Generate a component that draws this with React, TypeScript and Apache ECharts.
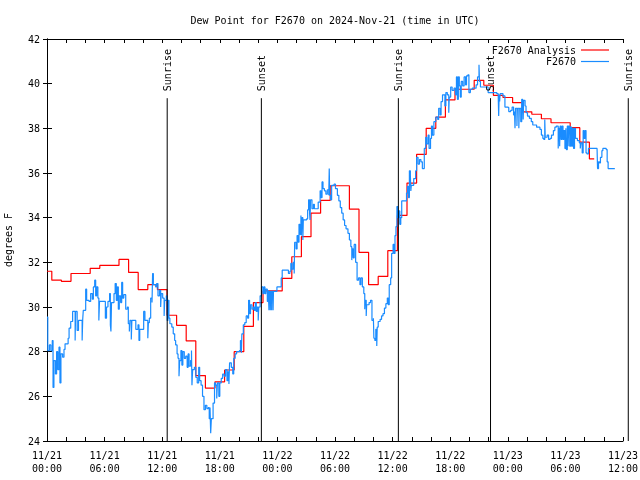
import React, { useEffect, useRef } from "react";
import * as echarts from "echarts";

const FONT = '"DejaVu Sans Mono", "Liberation Mono", monospace';

const titleText = "Dew Point for F2670 on 2024-Nov-21 (time in UTC)";
const dayLabels = ["11/21", "11/22", "11/23"];
const yMin = 24;
const yMax = 42;

// Hourly analysis values, hour 0 .. 57 from 11/21 00:00 UTC
const analysisValues = [
  31.6, 31.2, 31.15, 31.5, 31.5, 31.73, 31.86, 31.86, 32.13, 31.55,
  30.78, 31.0, 30.78, 29.63, 29.18, 28.48, 26.93, 26.37, 26.65, 27.18,
  28.0, 29.13, 30.2, 30.72, 30.72, 31.28, 32.25, 33.15, 34.2, 34.77,
  35.43, 35.43, 34.38, 32.45, 31.0, 31.37, 32.52, 34.1, 35.55, 36.83,
  38.0, 38.5, 39.27, 39.75, 39.75, 40.15, 39.93, 39.48, 39.38, 39.15,
  38.74, 38.63, 38.43, 38.25, 38.25, 38.03, 37.38, 36.63,
];

// Observations [hour since 11/21 00:00, dew point]
const obsDay1Morning = [
  [0.0, 29.55], [0.08, 28.05], [0.25, 28.3], [0.4, 28.05], [0.55, 28.5], [0.63, 26.4], [0.72, 27.6],
  [0.88, 27.0], [1.0, 28.0], [1.12, 27.2], [1.25, 28.2], [1.35, 26.6], [1.45, 27.9], [1.63, 27.75],
  [1.77, 28.1], [1.88, 28.35], [2.2, 28.6], [2.3, 29.05], [2.47, 29.35], [2.67, 29.8], [2.93, 28.5],
  [2.98, 29.8], [3.14, 28.95], [3.28, 29.4], [3.66, 28.5], [3.72, 29.45], [3.78, 29.85], [4.03, 30.8],
  [4.13, 30.3], [4.38, 30.25], [4.55, 30.6], [4.72, 30.35], [4.83, 30.9], [4.97, 31.2], [5.07, 30.5],
  [5.17, 30.9], [5.3, 30.4], [5.4, 29.4], [5.47, 30.25], [5.94, 30.25], [6.08, 29.5], [6.2, 30.0],
  [6.35, 30.25], [6.52, 30.6], [6.6, 29.2], [6.66, 28.9], [6.72, 30.2], [6.98, 30.6], [7.1, 31.05],
  [7.22, 30.3], [7.33, 30.9], [7.43, 29.9], [7.53, 30.5], [7.67, 30.2], [7.78, 31.1], [7.88, 30.4],
  [8.0, 30.55], [8.2, 29.9], [8.37, 30.0], [8.47, 29.25], [8.58, 28.9], [8.64, 29.4], [8.78, 28.55],
  [8.84, 29.4], [9.25, 29.0], [9.48, 29.2], [9.58, 28.5], [9.66, 29.0], [9.97, 29.0], [10.07, 29.8],
  [10.2, 29.4], [10.5, 28.6], [10.56, 29.3], [10.66, 29.5], [10.8, 30.4], [10.94, 30.2], [11.0, 31.5],
  [11.08, 31.0], [11.32, 30.9], [11.42, 31.05], [11.56, 30.5], [11.72, 30.75], [11.84, 30.0],
  [11.9, 30.6], [12.05, 30.4], [12.2, 29.6], [12.26, 30.3], [12.43, 30.5], [12.52, 29.4],
  [12.6, 30.3], [12.7, 29.5],
];

const obsDay1Evening = [
  [12.8, 29.25], [13.0, 29.1], [13.15, 28.8], [13.3, 28.5], [13.4, 28.3], [13.55, 27.9], [13.65, 27.7],
  [13.75, 26.9], [13.82, 27.6], [13.95, 28.05], [14.05, 27.4], [14.15, 28.0], [14.3, 27.7], [14.45, 27.8],
  [14.6, 27.3], [14.7, 27.9], [14.8, 27.35], [14.95, 27.6], [15.05, 28.05], [15.1, 26.5], [15.17, 27.2],
  [15.35, 27.3], [15.5, 26.85], [15.65, 26.6], [15.8, 27.3], [15.9, 26.7], [16.05, 26.5], [16.2, 26.0],
  [16.35, 25.4], [16.5, 25.6], [16.65, 25.45], [16.8, 25.5], [16.9, 25.0], [16.98, 25.5], [17.05, 24.35],
  [17.12, 25.0], [17.3, 25.7], [17.45, 26.6], [17.55, 26.5], [17.68, 25.9], [17.75, 26.6], [17.9, 26.0],
  [18.0, 26.6], [18.15, 26.8], [18.3, 27.0], [18.45, 26.9], [18.6, 27.2], [18.75, 26.7], [18.85, 27.1],
  [18.95, 26.55], [19.02, 27.5], [19.2, 27.3], [19.35, 27.0], [19.45, 27.7], [19.6, 27.9], [19.75, 28.0],
  [20.05, 28.05], [20.15, 28.5], [20.25, 27.95], [20.3, 28.8], [20.45, 29.2], [20.6, 29.3], [20.75, 29.6],
  [20.9, 29.5], [21.0, 30.3], [21.1, 29.7], [21.2, 30.1], [21.35, 29.9], [21.5, 30.0], [21.6, 29.85],
  [21.7, 30.2], [21.8, 29.8], [21.9, 30.0], [22.0, 29.4], [22.06, 30.0], [22.2, 30.5], [22.35, 30.9],
  [22.5, 30.6], [22.6, 30.9], [22.7, 30.6], [22.8, 30.8], [22.95, 30.25], [23.05, 30.75],
];

const obsDay2Morning = [
  [23.12, 29.85], [23.16, 30.7], [23.26, 29.85], [23.3, 30.7], [23.4, 29.85], [23.44, 30.7], [23.55, 29.85],
  [23.59, 30.7], [23.95, 30.9], [24.4, 31.3], [24.5, 31.65], [25.15, 31.5], [25.3, 31.6], [25.4, 31.95],
  [25.5, 31.7], [25.65, 32.0], [25.75, 31.5], [25.8, 32.9], [25.95, 32.6], [26.05, 33.2], [26.15, 32.9],
  [26.25, 33.7], [26.35, 33.25], [26.45, 34.1], [26.5, 33.2], [26.56, 34.0], [26.65, 33.0], [26.7, 33.9],
  [27.05, 33.95], [27.15, 34.35], [27.25, 34.8], [27.35, 34.2], [27.4, 33.9], [27.45, 34.8], [27.6, 34.4],
  [27.75, 34.6], [27.85, 34.4], [28.25, 34.7], [28.45, 35.2], [28.55, 34.9], [28.65, 35.6], [28.75, 35.3],
  [28.9, 35.2], [29.05, 35.05], [29.2, 35.25], [29.35, 35.0], [29.4, 36.2], [29.45, 35.0], [29.55, 34.8],
  [29.65, 35.45], [29.9, 35.5], [30.05, 35.3], [30.25, 35.0], [30.4, 34.75], [30.55, 34.45], [30.7, 34.2],
  [30.85, 33.9], [31.0, 33.65], [31.15, 33.5], [31.35, 33.3], [31.5, 33.0], [31.65, 32.7], [31.75, 32.1],
  [31.8, 32.6], [31.9, 32.2], [32.0, 32.8], [32.15, 32.0], [32.3, 31.2], [32.45, 31.3], [32.6, 31.0],
  [32.7, 31.3], [32.85, 30.9], [33.0, 30.6], [33.1, 29.9], [33.15, 30.3], [33.25, 29.6], [33.3, 30.1],
  [33.55, 30.2], [33.7, 30.3], [33.85, 29.4], [34.0, 29.5], [34.05, 28.6], [34.15, 28.5], [34.25, 29.0],
  [34.35, 28.25], [34.4, 29.1], [34.5, 29.35], [34.7, 29.45], [34.85, 29.6], [35.0, 29.7], [35.15, 29.95],
  [35.3, 30.15], [35.45, 30.4], [35.55, 30.1], [35.65, 31.0], [35.8, 31.3], [35.9, 32.4], [36.05, 32.8],
  [36.15, 32.4], [36.25, 33.2], [36.35, 33.6], [36.45, 34.5], [36.55, 34.0], [36.65, 34.3],
];

const obsDay2Evening = [
  [36.75, 33.7], [36.85, 34.0], [36.95, 34.75], [37.45, 35.1], [37.55, 35.4], [37.65, 34.9], [37.75, 36.1],
  [37.85, 35.9], [37.9, 35.2], [37.95, 35.45], [38.2, 35.75], [38.4, 36.1], [38.5, 36.7], [38.65, 36.4],
  [38.8, 36.6], [38.95, 36.5], [39.1, 36.2], [39.3, 37.1], [39.45, 37.6], [39.55, 37.3], [39.7, 37.7],
  [39.8, 37.1], [39.95, 37.55], [40.05, 38.1], [40.15, 37.7], [40.3, 38.3], [40.5, 38.5], [40.7, 38.4],
  [40.8, 38.9], [40.95, 38.6], [41.05, 39.2], [41.2, 39.5], [41.45, 39.0], [41.55, 39.6], [41.7, 39.5],
  [41.85, 38.7], [41.9, 39.4], [42.05, 39.85], [42.2, 39.7], [42.4, 39.8], [42.55, 39.5], [42.65, 40.3],
  [42.75, 39.3], [42.85, 40.3], [42.95, 39.9], [43.05, 39.4], [43.15, 40.1], [43.3, 39.9], [43.45, 40.3],
  [43.6, 39.95], [43.7, 40.35], [43.85, 40.4], [43.95, 39.6], [44.1, 39.75], [44.3, 39.8], [44.7, 39.95],
  [44.85, 40.3], [45.0, 40.85], [45.05, 40.1], [45.15, 39.85], [45.95, 39.6], [46.85, 39.55], [47.0, 39.5],
  [47.05, 38.55], [47.1, 39.5], [47.15, 39.2], [47.2, 39.55], [47.5, 39.45], [47.7, 38.95],
];

const obsDay3 = [
  [48.0, 38.93], [48.1, 38.75], [48.3, 38.8], [48.45, 38.95], [48.6, 38.6], [48.7, 38.75], [48.75, 38.0],
  [48.8, 38.9], [48.95, 38.1], [49.0, 38.9], [49.15, 38.0], [49.2, 38.9], [49.35, 38.3], [49.45, 39.3],
  [49.55, 39.2], [49.6, 38.4], [49.65, 39.25], [49.8, 39.0], [49.9, 38.7], [50.05, 38.55], [50.25, 38.45],
  [50.45, 38.3], [50.6, 38.15], [51.0, 38.05], [51.35, 37.95], [51.5, 37.7], [51.65, 37.55], [51.75, 37.5],
  [51.85, 38.4], [51.9, 37.6], [52.1, 37.7], [52.25, 37.5], [52.4, 37.55], [52.55, 37.7], [52.75, 37.9],
  [52.9, 38.05], [53.05, 38.1], [53.25, 37.1], [53.3, 38.0], [53.4, 37.2], [53.45, 38.1], [53.55, 37.5],
  [53.65, 38.1], [53.75, 37.5], [53.85, 37.9], [53.95, 37.1], [54.05, 38.0], [54.1, 37.05], [54.2, 38.1],
  [54.28, 37.2], [54.35, 38.1], [54.45, 37.2], [54.55, 38.05], [54.65, 37.2], [54.75, 38.0], [54.85, 37.1],
  [54.95, 38.0], [55.05, 37.55], [55.25, 37.45], [55.45, 37.35], [55.55, 37.1], [55.62, 37.35], [55.75, 36.9],
  [55.85, 37.9], [55.95, 37.55], [56.05, 37.9], [56.15, 36.9], [56.25, 36.85], [56.4, 37.1], [57.3, 37.05],
  [57.35, 36.2], [57.45, 36.5], [57.55, 36.45], [57.65, 36.7], [57.8, 37.0], [57.9, 37.1], [58.25, 37.05],
  [58.35, 36.5], [58.45, 36.2], [59.15, 36.2],
];

// Sun events: hour since 11/21 00:00 UTC
const sunHours = [12.52, 22.33, 36.6, 46.2, 60.55];
const sunLabels = ["Sunrise", "Sunset", "Sunrise", "Sunset", "Sunrise"];
const sunLineTop = 39.35;

export default function App() {
  const ref = useRef<HTMLDivElement>(null);
  useEffect(() => {
    if (!ref.current) return;
    const chart = echarts.init(ref.current, undefined, { renderer: "svg" });
    const textStyle = { fontFamily: FONT, fontSize: 10, color: "#000" };
    const pad = (n: number) => (n < 10 ? "0" + n : "" + n);
    const fmt = (v: number) => {
      if (Math.round(v) % 6 !== 0) return "";
      const h = Math.round(v);
      return dayLabels[Math.floor(h / 24)] + "\n" + pad(h % 24) + ":00";
    };
    const axisLine = { show: true, lineStyle: { color: "#000", width: 1 } };
    const analysisData = analysisValues.map((v, i) => [i, v]);
    const obsData = [
      ...obsDay1Morning,
      ...obsDay1Evening,
      ...obsDay2Morning,
      ...obsDay2Evening,
      ...obsDay3,
    ];
    const sunData = sunHours.map((h) => [h, sunLineTop]);
    chart.setOption({
      animation: false,
      graphic: [
        {
          type: "text",
          x: 335,
          y: 20,
          style: {
            text: titleText,
            align: "center",
            verticalAlign: "middle",
            fontFamily: FONT,
            fontSize: 10,
            fill: "#000",
          },
        },
      ],
      grid: {
        left: 47,
        right: 17,
        top: 39,
        bottom: 39,
        containLabel: false,
        outerBoundsMode: "none",
      },
      legend: [
        {
          data: ["F2670 Analysis"],
          right: 31,
          top: 45,
          padding: 0,
          align: "right",
          icon: "rect",
          itemWidth: 28,
          itemHeight: 1.2,
          selectedMode: false,
          textStyle: { ...textStyle },
        },
        {
          data: ["F2670"],
          right: 31,
          top: 56.5,
          padding: 0,
          align: "right",
          icon: "rect",
          itemWidth: 28,
          itemHeight: 1.2,
          selectedMode: false,
          textStyle: { ...textStyle },
        },
      ],
      xAxis: [
        {
          type: "value",
          min: 0,
          max: 60,
          interval: 2,
          position: "bottom",
          axisLine,
          axisTick: { inside: true, length: 4, lineStyle: { color: "#000" } },
          splitLine: { show: false },
          axisLabel: {
            ...textStyle,
            formatter: fmt,
            lineHeight: 13,
            margin: 8,
            showMinLabel: true,
            showMaxLabel: true,
            hideOverlap: false,
          },
        },
        {
          type: "value",
          min: 0,
          max: 60,
          interval: 2,
          position: "top",
          axisLine,
          axisTick: { inside: true, length: 4, lineStyle: { color: "#000" } },
          splitLine: { show: false },
          axisLabel: { show: false },
        },
      ],
      yAxis: [
        {
          type: "value",
          min: yMin,
          max: yMax,
          interval: 2,
          position: "left",
          name: "degrees F",
          nameLocation: "middle",
          nameGap: 34,
          nameTextStyle: { ...textStyle },
          axisLine,
          axisTick: { inside: true, length: 5, lineStyle: { color: "#000" } },
          splitLine: { show: false },
          axisLabel: { ...textStyle, margin: 7 },
        },
        {
          type: "value",
          min: yMin,
          max: yMax,
          interval: 2,
          position: "right",
          axisLine,
          axisTick: { inside: true, length: 4, lineStyle: { color: "#000" } },
          splitLine: { show: false },
          axisLabel: { show: false },
        },
      ],
      series: [
        {
          name: "F2670 Analysis",
          type: "line",
          step: "middle",
          data: analysisData,
          showSymbol: false,
          symbol: "none",
          color: "#ff0000",
          itemStyle: { color: "#ff0000" },
          lineStyle: { color: "#ff0000", width: 1.2 },
          z: 2,
        },
        {
          name: "F2670",
          type: "line",
          step: "end",
          data: obsData,
          showSymbol: false,
          symbol: "none",
          color: "#1a8cff",
          itemStyle: { color: "#1a8cff" },
          lineStyle: { color: "#1a8cff", width: 1.2 },
          z: 3,
        },
        {
          name: "sun",
          type: "custom",
          clip: false,
          silent: true,
          z: 4,
          encode: { x: 0, y: 1 },
          data: sunData,
          renderItem: (params: any, api: any) => {
            const x = api.value(0);
            const top = api.value(1);
            const p0 = api.coord([x, yMin]);
            const p1 = api.coord([x, top]);
            return {
              type: "group",
              children: [
                {
                  type: "line",
                  shape: { x1: p0[0], y1: p0[1], x2: p1[0], y2: p1[1] },
                  style: { stroke: "#000", lineWidth: 1 },
                },
                {
                  type: "text",
                  x: p1[0],
                  y: p1[1] - 7,
                  rotation: Math.PI / 2,
                  style: {
                    text: sunLabels[params.dataIndex],
                    align: "left",
                    verticalAlign: "middle",
                    fontFamily: FONT,
                    fontSize: 10,
                    fill: "#000",
                  },
                },
              ],
            };
          },
        },
      ],
    });
    return () => chart.dispose();
  }, []);
  return (
    <div
      ref={ref}
      style={{ position: "fixed", left: 0, top: 0, width: 640, height: 480 }}
    />
  );
}
